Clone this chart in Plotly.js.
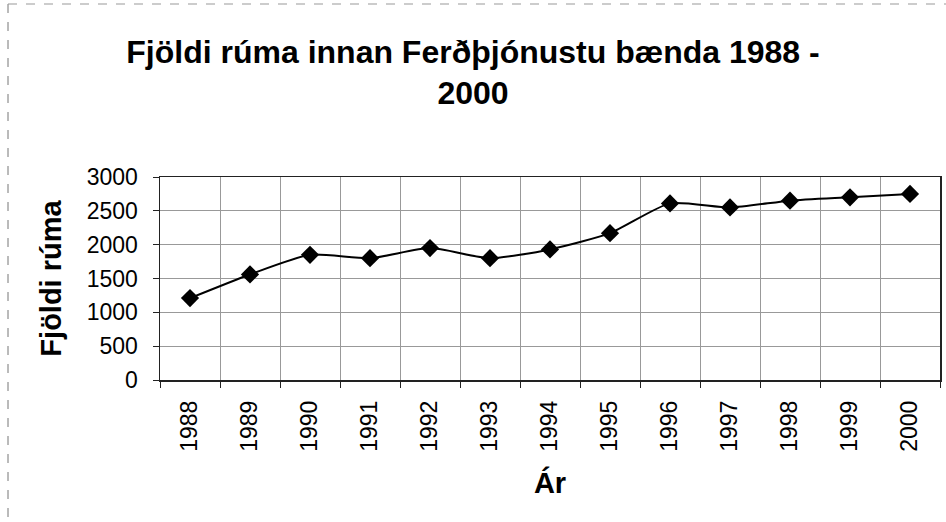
<!DOCTYPE html>
<html>
<head>
<meta charset="utf-8">
<script src="https://cdn.plot.ly/plotly-3.0.1.min.js"></script>
<style>html,body{margin:0;padding:0;background:#fff;}#chart{width:946px;height:522px;}</style>
</head>
<body>
<div id="chart"></div>
<script>
const years = ["1988","1989","1990","1991","1992","1993","1994","1995","1996","1997","1998","1999","2000"];
const rooms = [1210, 1560, 1850, 1800, 1950, 1800, 1930, 2170, 2610, 2550, 2650, 2700, 2750];
const yTicks = [0, 500, 1000, 1500, 2000, 2500, 3000];

const FONT = "Liberation Sans, Arial, sans-serif";
const L = 160, R = 6, T = 177, B = 142, W = 946, H = 522;
const pw = W - L - R, ph = H - T - B;
const px = v => (v - L) / pw;
const py = v => (H - B - v) / ph;

const trace = {
  x: years,
  y: rooms,
  type: "scatter",
  mode: "lines+markers",
  line: {color: "#000", width: 2, shape: "spline", smoothing: 0.6},
  marker: {symbol: "diamond", size: 14, color: "#000"},
  hoverinfo: "x+y"
};

const layout = {
  width: W, height: H,
  margin: {l: L, r: R, t: T, b: B},
  paper_bgcolor: "#fff",
  plot_bgcolor: "#fff",
  showlegend: false,
  font: {family: FONT, color: "#000"},
  title: {
    text: "<b>Fjöldi rúma innan Ferðþjónustu bænda 1988 -<br>2000</b>",
    font: {family: FONT, size: 32, color: "#000"},
    x: 0.5, xref: "container", xanchor: "center",
    y: 0.88, yref: "container", yanchor: "top"
  },
  xaxis: {
    type: "category",
    tickson: "boundaries",
    showgrid: true, gridcolor: "#999", gridwidth: 1,
    showline: true, linecolor: "#222", linewidth: 1.5, mirror: true,
    ticks: "outside", ticklen: 6, tickcolor: "#222",
    tickangle: -90,
    ticklabelstandoff: 10,
    tickfont: {family: FONT, size: 23, color: "#000"},
    title: {text: "<b>Ár</b>", font: {family: FONT, size: 29, color: "#000"}, standoff: 22},
    range: [-0.5, years.length - 0.5]
  },
  yaxis: {
    range: [0, 3000],
    tickvals: yTicks,
    ticktext: yTicks.map(String),
    showgrid: true, gridcolor: "#999", gridwidth: 1,
    showline: true, linecolor: "#222", linewidth: 1.5, mirror: true,
    ticks: "outside", ticklen: 6, tickcolor: "#222",
    ticklabelstandoff: 10,
    tickfont: {family: FONT, size: 23, color: "#000"},
    title: {text: "<b>Fjöldi rúma</b>", font: {family: FONT, size: 29, color: "#000"}, standoff: 16},
    zeroline: false
  },
  shapes: [
    {type: "line", xref: "paper", yref: "paper", x0: px(8), x1: px(8), y0: py(4), y1: py(522),
     line: {color: "#777", width: 1, dash: "dash"}},
    {type: "line", xref: "paper", yref: "paper", x0: px(8), x1: px(946), y0: py(4), y1: py(4),
     line: {color: "#999", width: 1, dash: "dash"}}
  ]
};

Plotly.newPlot("chart", [trace], layout, {displayModeBar: false, staticPlot: true});
</script>
</body>
</html>
